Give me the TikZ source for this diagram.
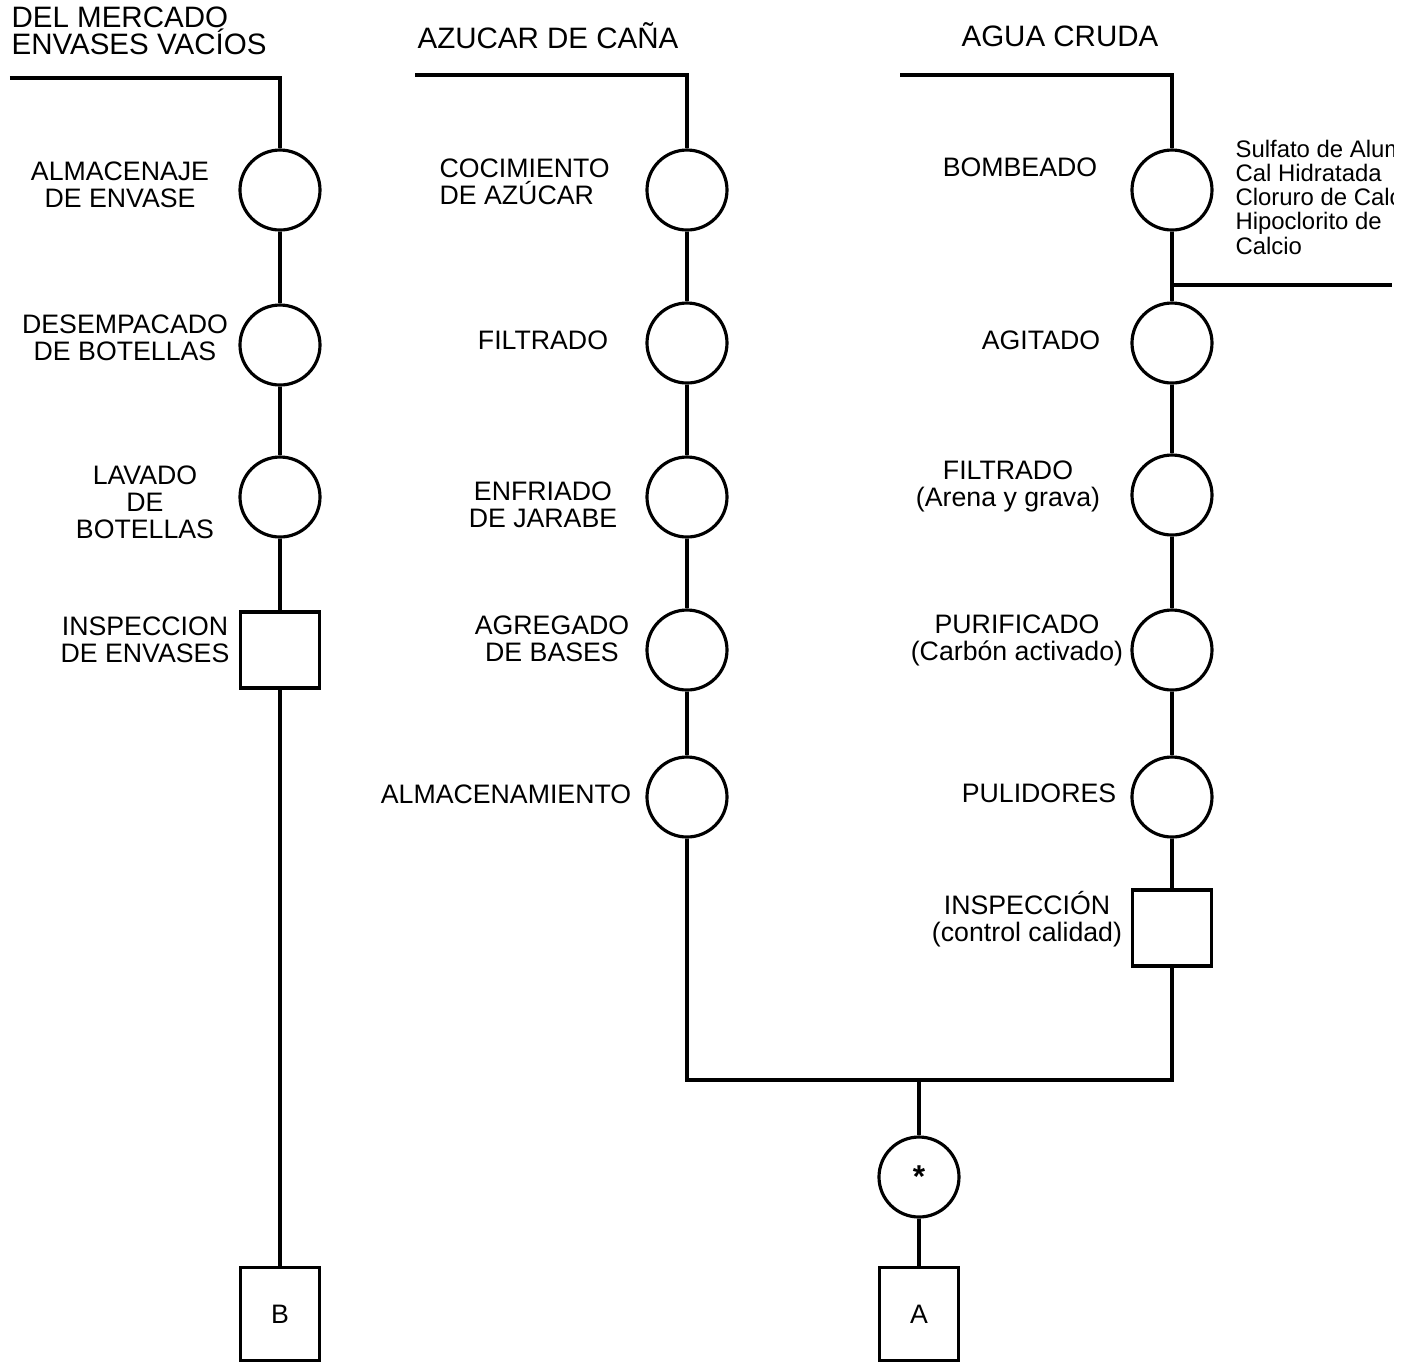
\documentclass[tikz,border=0pt]{standalone}
\usepackage{fontspec}
\setmainfont{Liberation Sans}
\usetikzlibrary{positioning}

\begin{document}
\begin{tikzpicture}[x=0.1mm,y=-0.1mm,line width=0.9pt,
  proc/.style={draw,circle,minimum size=8mm,inner sep=0pt},
  insp/.style={draw,rectangle,minimum width=7.9mm,minimum height=7.6mm,inner sep=0pt},
  endbox/.style={draw,rectangle,minimum width=7.9mm,minimum height=9.3mm,inner sep=0pt,font=\fontsize{7.6}{8}\selectfont},
  lbl/.style={align=center,inner sep=0pt,font=\fontsize{7.6}{7.7}\selectfont},
  head/.style={inner sep=0pt,font=\fontsize{8.4}{7.7}\selectfont}]
\useasboundingbox (0,0) rectangle (1412,1363);

% Headers
\node[head,align=left,anchor=west] (hbot) at (10,31) {DEL MERCADO\\ENVASES VACÍOS};
\node[head] (hazu) at (548,36) {AZUCAR DE CAÑA};
\node[head] (hagua) at (1060,36) {AGUA CRUDA};

% Bottles line
\foreach \n/\y in {alm/190,desem/345,lav/497} {
  \node[proc] (\n) at (280,\y) {};
}
\node[insp] (insenv) at (280,650) {};
\node[endbox] (B) at (280,1314) {B};
\coordinate (inb) at (10,78);
\draw (inb) -| (alm);
\draw (alm) -- (desem) -- (lav) -- (insenv) -- (B);
\node[lbl] (lalm) at (120,185) {ALMACENAJE\\DE ENVASE};
\node[lbl] (ldesem) at (125,338) {DESEMPACADO\\DE BOTELLAS};
\node[lbl] (llav) at (145,502) {LAVADO\\DE\\BOTELLAS};
\node[lbl] (linsenv) at (145,640) {INSPECCION\\DE ENVASES};

% Sugar line
\foreach \n/\y in {coc/190,filt/343,enf/497,agr/650,almc/797} {
  \node[proc] (\n) at (687,\y) {};
}
\coordinate (inazu) at (415,75);
\draw (inazu) -| (coc);
\draw (coc) -- (filt) -- (enf) -- (agr) -- (almc);
\node[lbl,align=left,anchor=west] (lcoc) at (438,182) {COCIMIENTO\\DE AZÚCAR};
\node[lbl] (lfilt) at (543,340) {FILTRADO};
\node[lbl] (lenf) at (543,505) {ENFRIADO\\DE JARABE};
\node[lbl] (lagr) at (552,639) {AGREGADO\\DE BASES};
\node[lbl] (lalmc) at (506,794) {ALMACENAMIENTO};

% Water line
\foreach \n/\y in {bomb/190,agit/343,filta/495,puri/650,pul/797} {
  \node[proc] (\n) at (1172,\y) {};
}
\node[insp] (inspc) at (1172,928) {};
\coordinate (inagua) at (900,75);
\draw (inagua) -| (bomb);
\draw (bomb) -- (agit) -- (filta) -- (puri) -- (pul) -- (inspc);
\node[lbl] (lbomb) at (1020,167) {BOMBEADO};
\node[lbl] (lagit) at (1041,340) {AGITADO};
\node[lbl] (lfilta) at (1008,486) {FILTRADO\\(Arena y grava)};
\node[lbl] (lpuri) at (1017,640) {PURIFICADO\\(Carbón activado)};
\node[lbl] (lpul) at (1039,793) {PULIDORES};
\node[lbl] (linspc) at (1027,919) {INSPECCIÓN\\(control calidad)};

% Chemicals
\coordinate (tap) at (1172,285);
\coordinate (chem) at (1392,285);
\draw (tap) -- (chem);
\begin{scope}
  \clip (1200,100) rectangle (1393,300);
  \node[align=left,anchor=west,inner sep=0pt,font=\fontsize{6.8}{6.9}\selectfont] (lchem) at (1234,197)
    {Sulfato de Aluminio\\Cal Hidratada\\Cloruro de Calcio\\Hipoclorito de\\Calcio};
\end{scope}

% Mixing
\coordinate (jn) at (919,1080);
\node[proc] (mix) at (919,1177) {\fontsize{9}{9}\selectfont\textbf{*}};
\node[endbox] (A) at (919,1314) {A};
\draw (almc) |- (jn) -| (inspc);
\draw (jn) -- (mix) -- (A);
\end{tikzpicture}
\end{document}
